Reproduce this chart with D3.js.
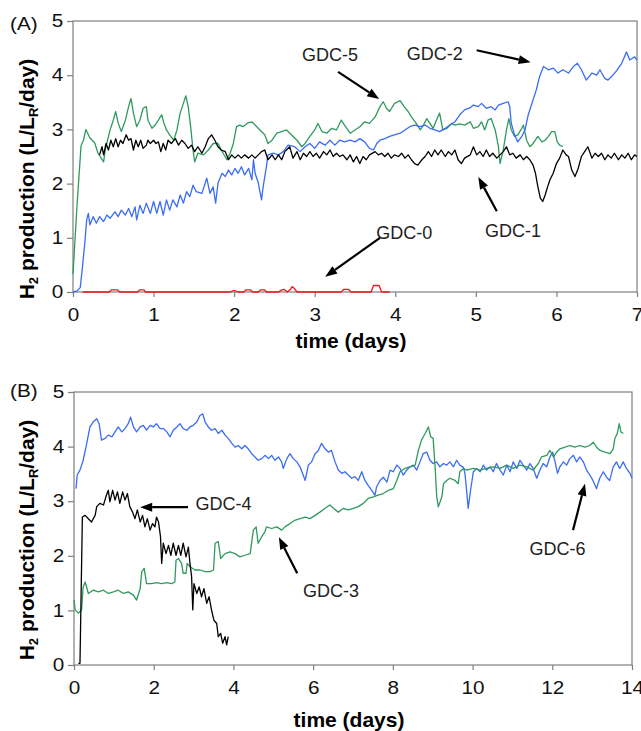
<!DOCTYPE html>
<html>
<head>
<meta charset="utf-8" />
<title>H2 production</title>
<script src="https://cdnjs.cloudflare.com/ajax/libs/d3/7.8.5/d3.min.js"></script>
<style>
  body { margin: 0; background: #fff; }
  #chart svg { display: block; }
  .axis text { font-family: "Liberation Sans", Arial, Helvetica, sans-serif; font-size: 18px; fill: #111; }
  .axis line { stroke: #7f7f7f; stroke-width: 1.2px; }
  .series { fill: none; stroke-width: 1.3px; stroke-linejoin: round; }
  .note { font-family: "Liberation Sans", Arial, Helvetica, sans-serif; font-size: 18px; fill: #222; }
  .title { font-family: "Liberation Sans", Arial, Helvetica, sans-serif; font-weight: bold; font-size: 21px; fill: #000; }
</style>
</head>
<body>
<div id="chart"></div>

<script>
// ---- data: [time (days), H2 production (L/LR/day)] ----
var yTicks = [0, 1, 2, 3, 4, 5];
var xTicksA = [0, 1, 2, 3, 4, 5, 6, 7];
var xTicksB = [0, 2, 4, 6, 8, 10, 12, 14];

// panel A
var gdc5 = [[0,0.33],[0.05,1.6],[0.1,2.7],[0.13,2.80],[0.16,3.0],[0.21,2.84],[0.27,2.75],[0.31,2.56],[0.38,2.40],[0.40,2.62],[0.46,2.99],[0.50,3.17],[0.53,3.33],[0.56,3.12],[0.60,2.96],[0.65,3.17],[0.69,3.42],[0.72,3.57],[0.75,3.30],[0.79,3.05],[0.83,3.17],[0.87,3.39],[0.91,3.42],[0.93,3.17],[0.98,3.02],[1.02,3.08],[1.06,3.17],[1.10,3.27],[1.13,3.11],[1.16,2.99],[1.20,2.90],[1.25,2.80],[1.29,2.99],[1.33,3.30],[1.37,3.48],[1.40,3.62],[1.43,3.42],[1.46,3.05],[1.49,2.62],[1.51,2.40],[1.55,2.56],[1.62,2.53],[1.68,2.62],[1.74,2.74],[1.80,2.74],[1.84,2.62],[1.91,2.44],[1.95,2.56],[1.99,2.74],[2.03,3.05],[2.07,3.08],[2.11,3.05],[2.17,3.12],[2.22,3.14],[2.26,3.08],[2.32,2.99],[2.38,2.90],[2.42,2.74],[2.47,2.80],[2.53,2.93],[2.59,2.96],[2.65,2.99],[2.71,2.90],[2.78,2.80],[2.84,2.68],[2.88,2.74],[2.94,2.87],[3.00,2.99],[3.04,3.11],[3.09,2.96],[3.15,2.93],[3.21,3.02],[3.27,2.99],[3.33,3.17],[3.37,3.08],[3.44,2.93],[3.50,2.99],[3.56,3.05],[3.62,3.14],[3.68,3.11],[3.75,3.23],[3.81,3.42],[3.85,3.51],[3.89,3.39],[3.93,3.33],[3.99,3.48],[4.06,3.53],[4.11,3.42],[4.16,3.33],[4.20,3.23],[4.26,3.11],[4.31,2.99],[4.35,3.08],[4.39,3.20],[4.43,3.11],[4.47,3.02],[4.51,3.17],[4.55,3.30],[4.59,2.99],[4.64,3.02],[4.70,3.11],[4.74,3.08],[4.80,3.10],[4.86,3.08],[4.93,3.14],[4.97,3.02],[5.03,3.05],[5.07,3.14],[5.11,2.99],[5.15,3.17],[5.19,3.20],[5.24,2.99],[5.28,2.68],[5.30,2.37],[5.34,2.62],[5.38,2.99],[5.41,3.20],[5.44,2.99],[5.48,2.87],[5.52,2.90],[5.57,3.02],[5.59,3.08],[5.63,2.80],[5.67,2.68],[5.71,2.74],[5.77,2.87],[5.82,2.77],[5.86,2.80],[5.90,2.87],[5.94,2.96],[5.98,2.96],[6.01,2.77],[6.04,2.71],[6.08,2.68]];

var gdc2 = [[0,0],[0.05,0.02],[0.09,0.08],[0.12,0.5],[0.15,0.96],[0.17,1.33],[0.19,1.45],[0.21,1.24],[0.25,1.39],[0.29,1.27],[0.33,1.39],[0.38,1.30],[0.42,1.42],[0.46,1.36],[0.52,1.48],[0.56,1.39],[0.60,1.51],[0.65,1.42],[0.69,1.54],[0.73,1.39],[0.77,1.57],[0.79,1.33],[0.83,1.60],[0.87,1.45],[0.91,1.64],[0.96,1.45],[1.00,1.67],[1.04,1.45],[1.08,1.67],[1.12,1.42],[1.16,1.70],[1.20,1.51],[1.24,1.70],[1.29,1.57],[1.33,1.79],[1.37,1.64],[1.41,1.85],[1.45,1.76],[1.49,1.97],[1.53,1.85],[1.60,1.82],[1.66,2.10],[1.70,1.82],[1.74,1.94],[1.77,1.64],[1.80,2.01],[1.85,2.19],[1.89,2.13],[1.93,2.25],[1.97,2.16],[2.01,2.28],[2.05,2.19],[2.09,2.31],[2.13,2.16],[2.18,2.28],[2.22,2.07],[2.24,2.44],[2.26,2.19],[2.30,2.01],[2.34,1.70],[2.36,1.94],[2.40,2.31],[2.42,2.53],[2.49,2.56],[2.55,2.53],[2.61,2.59],[2.67,2.71],[2.75,2.68],[2.82,2.59],[2.88,2.68],[2.94,2.74],[3.00,2.65],[3.06,2.77],[3.13,2.71],[3.19,2.80],[3.25,2.71],[3.31,2.80],[3.37,2.77],[3.44,2.80],[3.50,2.77],[3.56,2.83],[3.62,2.77],[3.68,2.65],[3.73,2.62],[3.77,2.74],[3.81,2.80],[3.87,2.83],[3.93,2.87],[3.99,2.90],[4.06,2.93],[4.12,2.99],[4.18,3.05],[4.24,3.08],[4.31,3.05],[4.37,3.08],[4.43,3.02],[4.49,2.99],[4.55,2.96],[4.62,3.02],[4.68,3.08],[4.74,3.14],[4.80,3.27],[4.86,3.36],[4.93,3.40],[4.97,3.45],[5.03,3.42],[5.07,3.48],[5.13,3.39],[5.19,3.42],[5.24,3.36],[5.28,3.45],[5.34,3.48],[5.40,3.51],[5.42,3.42],[5.44,3.11],[5.48,2.90],[5.52,2.77],[5.57,2.87],[5.61,2.99],[5.65,3.27],[5.69,3.45],[5.75,3.73],[5.79,3.97],[5.84,4.16],[5.90,4.10],[5.96,4.13],[6.02,4.04],[6.08,4.10],[6.15,4.04],[6.21,4.16],[6.26,4.22],[6.31,4.10],[6.37,3.91],[6.44,4.04],[6.50,4.00],[6.54,4.10],[6.60,3.94],[6.64,3.91],[6.70,4.00],[6.74,4.07],[6.81,4.22],[6.87,4.43],[6.91,4.28],[6.97,4.34],[7.0,4.28]];

var gdc1 = [[0.33,2.53],[0.36,2.68],[0.38,2.53],[0.41,2.74],[0.44,2.62],[0.47,2.80],[0.50,2.68],[0.53,2.83],[0.56,2.68],[0.59,2.80],[0.62,2.74],[0.66,2.90],[0.69,2.80],[0.72,2.83],[0.75,2.62],[0.78,2.80],[0.81,2.68],[0.84,2.80],[0.87,2.65],[0.91,2.71],[0.93,2.80],[0.96,2.74],[1.00,2.80],[1.03,2.74],[1.06,2.77],[1.09,2.59],[1.12,2.74],[1.15,2.62],[1.18,2.80],[1.22,2.74],[1.27,2.83],[1.31,2.71],[1.35,2.80],[1.39,2.74],[1.43,2.65],[1.47,2.71],[1.51,2.59],[1.55,2.68],[1.60,2.56],[1.64,2.68],[1.68,2.83],[1.72,2.90],[1.76,2.80],[1.80,2.68],[1.84,2.62],[1.89,2.59],[1.93,2.44],[1.97,2.53],[2.01,2.47],[2.05,2.53],[2.09,2.47],[2.13,2.53],[2.18,2.47],[2.22,2.53],[2.26,2.47],[2.30,2.53],[2.34,2.59],[2.38,2.62],[2.42,2.44],[2.47,2.53],[2.51,2.44],[2.55,2.53],[2.59,2.44],[2.63,2.59],[2.69,2.68],[2.73,2.47],[2.78,2.59],[2.82,2.44],[2.86,2.56],[2.90,2.50],[2.94,2.59],[2.98,2.50],[3.02,2.56],[3.06,2.47],[3.11,2.59],[3.15,2.53],[3.19,2.62],[3.23,2.50],[3.27,2.56],[3.31,2.50],[3.35,2.53],[3.40,2.44],[3.44,2.53],[3.48,2.40],[3.52,2.50],[3.56,2.37],[3.60,2.50],[3.64,2.44],[3.68,2.53],[3.75,2.59],[3.79,2.53],[3.83,2.56],[3.87,2.50],[3.91,2.56],[3.95,2.47],[3.99,2.53],[4.04,2.50],[4.08,2.56],[4.12,2.47],[4.16,2.53],[4.20,2.44],[4.24,2.37],[4.28,2.34],[4.33,2.44],[4.37,2.50],[4.41,2.59],[4.45,2.50],[4.49,2.62],[4.53,2.53],[4.57,2.62],[4.62,2.50],[4.66,2.59],[4.70,2.53],[4.74,2.62],[4.78,2.44],[4.82,2.37],[4.86,2.47],[4.93,2.53],[4.97,2.68],[5.01,2.53],[5.05,2.59],[5.09,2.50],[5.13,2.62],[5.17,2.50],[5.21,2.56],[5.26,2.47],[5.30,2.53],[5.34,2.59],[5.38,2.68],[5.42,2.53],[5.46,2.56],[5.50,2.47],[5.55,2.53],[5.59,2.44],[5.63,2.50],[5.67,2.44],[5.71,2.34],[5.74,2.19],[5.77,1.94],[5.80,1.73],[5.83,1.67],[5.86,1.79],[5.89,1.94],[5.92,2.07],[5.96,2.19],[6.00,2.37],[6.04,2.47],[6.08,2.62],[6.12,2.53],[6.15,2.50],[6.19,2.25],[6.23,2.13],[6.27,2.28],[6.31,2.50],[6.35,2.59],[6.39,2.68],[6.44,2.47],[6.48,2.56],[6.52,2.50],[6.56,2.56],[6.60,2.44],[6.64,2.53],[6.68,2.47],[6.72,2.56],[6.77,2.44],[6.81,2.53],[6.85,2.47],[6.89,2.56],[6.93,2.44],[6.97,2.53],[7.0,2.50]];

var gdc0 = [[0.12,0],[0.45,0],[0.48,0.04],[0.55,0.04],[0.58,0],[0.80,0],[0.83,0.04],[0.88,0.04],[0.90,0],[1.95,0],[2.00,0.03],[2.05,0],[2.12,0],[2.15,0.04],[2.20,0.04],[2.23,0],[2.30,0],[2.33,0.04],[2.38,0.04],[2.40,0],[2.55,0],[2.58,0.03],[2.62,0.05],[2.66,0],[2.70,0.05],[2.72,0.10],[2.75,0.06],[2.78,0],[3.33,0],[3.36,0.05],[3.42,0.05],[3.45,0],[3.70,0],[3.73,0.12],[3.80,0.12],[3.83,0],[3.93,0]];

// panel B
var gdc6 = [[0.05,3.23],[0.08,3.48],[0.15,3.57],[0.23,3.75],[0.32,4.06],[0.40,4.36],[0.48,4.45],[0.57,4.51],[0.63,4.42],[0.69,4.12],[0.78,4.15],[0.86,4.21],[0.95,4.18],[1.03,4.27],[1.11,4.36],[1.20,4.27],[1.28,4.33],[1.36,4.42],[1.42,4.54],[1.49,4.36],[1.57,4.27],[1.66,4.36],[1.74,4.39],[1.82,4.30],[1.91,4.39],[1.99,4.36],[2.07,4.42],[2.16,4.33],[2.24,4.33],[2.33,4.27],[2.41,4.18],[2.49,4.30],[2.58,4.36],[2.66,4.42],[2.74,4.33],[2.83,4.30],[2.91,4.36],[2.99,4.39],[3.08,4.45],[3.16,4.57],[3.23,4.60],[3.29,4.45],[3.37,4.36],[3.45,4.30],[3.54,4.33],[3.62,4.24],[3.71,4.30],[3.79,4.21],[3.87,4.15],[3.96,4.06],[4.04,3.99],[4.12,4.02],[4.21,3.96],[4.29,4.02],[4.37,3.96],[4.46,3.87],[4.54,3.81],[4.62,3.75],[4.71,3.78],[4.79,3.84],[4.88,3.78],[4.96,3.84],[5.04,3.75],[5.13,3.81],[5.21,3.72],[5.25,3.60],[5.34,3.78],[5.42,3.87],[5.50,3.78],[5.59,3.72],[5.67,3.63],[5.75,3.48],[5.80,3.38],[5.88,3.66],[5.96,3.72],[6.05,3.87],[6.13,3.93],[6.21,4.06],[6.30,3.96],[6.38,3.90],[6.46,3.93],[6.55,3.72],[6.63,3.57],[6.72,3.51],[6.80,3.54],[6.88,3.48],[6.97,3.42],[7.05,3.45],[7.13,3.38],[7.22,3.54],[7.30,3.38],[7.38,3.29],[7.47,3.20],[7.55,3.11],[7.59,3.26],[7.68,3.38],[7.76,3.44],[7.85,3.35],[7.93,3.57],[8.01,3.54],[8.10,3.66],[8.18,3.60],[8.26,3.48],[8.35,3.57],[8.43,3.63],[8.51,3.66],[8.60,3.57],[8.68,3.72],[8.76,3.87],[8.85,3.90],[8.93,3.75],[9.01,3.69],[9.10,3.72],[9.18,3.63],[9.27,3.69],[9.35,3.66],[9.43,3.72],[9.52,3.63],[9.60,3.75],[9.68,3.66],[9.77,3.62],[9.81,3.50],[9.85,3.20],[9.89,2.87],[9.95,3.20],[10.02,3.54],[10.10,3.60],[10.19,3.54],[10.27,3.66],[10.35,3.57],[10.44,3.63],[10.52,3.54],[10.60,3.69],[10.69,3.57],[10.77,3.48],[10.86,3.66],[10.94,3.54],[11.02,3.72],[11.11,3.60],[11.19,3.75],[11.27,3.66],[11.36,3.57],[11.44,3.69],[11.52,3.60],[11.61,3.42],[11.69,3.57],[11.77,3.69],[11.86,3.63],[11.94,3.81],[12.01,3.90],[12.07,3.72],[12.13,3.51],[12.19,3.63],[12.28,3.72],[12.36,3.66],[12.44,3.78],[12.53,3.84],[12.61,3.72],[12.69,3.81],[12.78,3.72],[12.86,3.57],[12.94,3.48],[13.02,3.38],[13.11,3.23],[13.19,3.42],[13.28,3.54],[13.36,3.44],[13.44,3.38],[13.53,3.63],[13.61,3.72],[13.69,3.60],[13.78,3.72],[13.86,3.60],[13.95,3.51],[14.0,3.42]];

var gdc3 = [[0,1.19],[0.03,1.01],[0.11,0.95],[0.19,1.01],[0.23,1.43],[0.28,1.52],[0.36,1.31],[0.48,1.37],[0.61,1.34],[0.74,1.37],[0.86,1.31],[0.99,1.34],[1.11,1.37],[1.24,1.31],[1.36,1.34],[1.49,1.28],[1.57,1.19],[1.66,1.40],[1.70,1.71],[1.76,1.77],[1.82,1.49],[1.95,1.49],[2.07,1.51],[2.20,1.49],[2.33,1.51],[2.45,1.49],[2.53,1.52],[2.56,1.92],[2.62,1.95],[2.70,1.86],[2.74,1.68],[2.81,1.68],[2.84,1.86],[2.91,1.80],[3.04,1.74],[3.16,1.74],[3.29,1.71],[3.41,1.71],[3.50,1.74],[3.54,2.23],[3.62,2.26],[3.68,1.95],[3.79,2.04],[3.91,2.07],[4.04,2.04],[4.16,1.98],[4.29,2.01],[4.42,2.04],[4.46,2.26],[4.50,2.47],[4.57,2.53],[4.62,2.23],[4.71,2.35],[4.79,2.44],[4.83,2.53],[4.96,2.50],[5.09,2.53],[5.21,2.47],[5.29,2.53],[5.42,2.59],[5.54,2.65],[5.67,2.68],[5.80,2.71],[5.92,2.68],[6.05,2.74],[6.17,2.80],[6.30,2.87],[6.42,2.93],[6.51,2.87],[6.63,2.80],[6.76,2.87],[6.88,2.84],[7.01,2.87],[7.13,2.90],[7.26,2.96],[7.38,3.05],[7.51,3.08],[7.63,3.11],[7.76,3.14],[7.89,3.20],[8.01,3.23],[8.10,3.38],[8.18,3.54],[8.30,3.60],[8.43,3.63],[8.56,3.66],[8.64,3.93],[8.72,4.12],[8.81,4.24],[8.89,4.36],[8.95,4.18],[9.01,4.15],[9.06,3.63],[9.10,3.08],[9.14,2.90],[9.23,3.08],[9.27,3.32],[9.35,3.38],[9.43,3.42],[9.56,3.38],[9.64,3.32],[9.68,3.54],[9.77,3.60],[9.85,3.57],[10.02,3.60],[10.19,3.57],[10.35,3.60],[10.52,3.63],[10.69,3.60],[10.86,3.66],[11.02,3.60],[11.19,3.66],[11.36,3.63],[11.52,3.57],[11.65,3.69],[11.73,3.81],[11.86,3.84],[11.94,3.93],[12.03,3.81],[12.11,3.90],[12.19,3.96],[12.32,3.99],[12.44,4.02],[12.57,3.99],[12.69,4.02],[12.82,3.99],[12.94,4.02],[13.03,4.08],[13.11,3.99],[13.20,3.93],[13.32,3.90],[13.45,3.87],[13.53,3.96],[13.57,4.15],[13.63,4.24],[13.68,4.42],[13.72,4.27],[13.78,4.24]];

var gdc4 = [[0.11,0.03],[0.15,0.03],[0.21,2.71],[0.28,2.74],[0.36,2.68],[0.44,2.62],[0.53,2.74],[0.57,2.90],[0.65,2.96],[0.74,2.93],[0.80,3.08],[0.86,3.20],[0.90,2.99],[0.97,3.20],[1.03,3.02],[1.09,3.17],[1.15,2.96],[1.22,3.17],[1.28,3.02],[1.34,3.14],[1.40,2.90],[1.47,2.80],[1.53,2.68],[1.59,2.84],[1.66,2.62],[1.72,2.74],[1.78,2.53],[1.84,2.68],[1.91,2.47],[1.97,2.59],[2.03,2.53],[2.07,2.71],[2.12,2.62],[2.17,2.35],[2.20,1.86],[2.24,2.23],[2.31,2.04],[2.37,2.19],[2.43,2.01],[2.49,2.23],[2.56,2.01],[2.62,2.19],[2.68,2.01],[2.74,2.23],[2.81,1.98],[2.87,2.16],[2.91,1.86],[2.95,1.62],[2.98,1.01],[3.01,1.49],[3.08,1.31],[3.14,1.43],[3.20,1.25],[3.26,1.40],[3.33,1.13],[3.39,1.25],[3.45,1.01],[3.51,0.82],[3.58,0.76],[3.62,0.52],[3.68,0.58],[3.73,0.40],[3.79,0.52],[3.83,0.37],[3.87,0.52]];

// annotations, placed in data coordinates
var notesA = [
  { text: "GDC-5", at: [3.19, 4.26], from: [3.29, 4.06], to: [3.80, 3.56] },
  { text: "GDC-2", at: [4.49, 4.28], from: [5.01, 4.46], to: [5.68, 4.24] },
  { text: "GDC-1", at: [5.46, 1.01], from: [5.26, 1.49], to: [5.03, 2.12] },
  { text: "GDC-0", at: [4.11, 0.98], from: [3.81, 1.00], to: [3.13, 0.28] }
];
var notesB = [
  { text: "GDC-4", at: [3.75, 2.84], from: [2.86, 2.89], to: [1.66, 2.89] },
  { text: "GDC-3", at: [6.45, 1.25], from: [5.60, 1.68], to: [5.14, 2.34] },
  { text: "GDC-6", at: [12.13, 2.01], from: [12.52, 2.47], to: [12.82, 3.32] }
];

var width = 641, height = 731;
var stretch = 1.15; // axis lettering in the original is a little wide

var svg = d3.select("#chart").append("svg")
    .attr("width", width)
    .attr("height", height);

drawPanel({ tag: "(A)", xMax: 7, xTicks: xTicksA, left: 73, right: 637, top: 21, bottom: 292,
            tagY: 30, xTitleY: 348, yTitleMid: 179 },
          [{ values: gdc5, color: "#2f9a5f" },
           { values: gdc2, color: "#3a6cf4" },
           { values: gdc1, color: "#000000" },
           { values: gdc0, color: "#f01818" }],
          notesA);

drawPanel({ tag: "(B)", xMax: 14, xTicks: xTicksB, left: 74, right: 632, top: 392, bottom: 665,
            tagY: 397, xTitleY: 727, yTitleMid: 540 },
          [{ values: gdc6, color: "#3a6cf4" },
           { values: gdc3, color: "#2f9a5f" },
           { values: gdc4, color: "#000000" }],
          notesB);

function drawPanel(p, series, notes) {
    var x = d3.scaleLinear().domain([0, p.xMax]).range([p.left, p.right]);
    var y = d3.scaleLinear().domain([0, 5]).range([p.bottom, p.top]);
    var fmt = d3.format("d");

    var g = svg.append("g");

    // frame
    g.append("rect")
        .attr("x", p.left).attr("y", p.top)
        .attr("width", p.right - p.left).attr("height", p.bottom - p.top)
        .attr("fill", "none").attr("stroke", "#7f7f7f").attr("stroke-width", 1.2);

    var ya = g.append("g")
        .attr("class", "axis")
        .attr("transform", "translate(" + p.left + ",0)")
        .call(d3.axisLeft(y).tickValues(yTicks).tickFormat(fmt)
              .tickSizeInner(6).tickSizeOuter(0).tickPadding(2.5));

    var xa = g.append("g")
        .attr("class", "axis")
        .attr("transform", "translate(0," + p.bottom + ")")
        .call(d3.axisBottom(x).tickValues(p.xTicks).tickFormat(fmt)
              .tickSizeInner(5).tickSizeOuter(0).tickPadding(11));

    [ya, xa].forEach(function(a) {
        a.attr("font-size", null).attr("font-family", null);
        a.select(".domain").remove();
        a.selectAll("text").attr("transform", "scale(" + stretch + ",1)");
    });

    // series
    var line = d3.line()
        .x(function(d) { return x(d[0]); })
        .y(function(d) { return y(d[1]); });

    series.forEach(function(s) {
        g.append("path")
            .datum(s.values)
            .attr("class", "series")
            .attr("stroke", s.color)
            .attr("d", line);
    });

    // panel tag
    g.append("text")
        .attr("transform", "translate(10," + p.tagY + ") scale(" + stretch + ",1)")
        .style("font-family", "'Liberation Sans', Arial, sans-serif")
        .style("font-size", "18px")
        .style("fill", "#111")
        .text(p.tag);

    // axis titles
    g.append("text")
        .attr("class", "title")
        .attr("x", (p.left + p.right) / 2 - 4)
        .attr("y", p.xTitleY)
        .attr("text-anchor", "middle")
        .text("time (days)");

    var yt = g.append("text")
        .attr("class", "title")
        .attr("text-anchor", "middle")
        .attr("transform", "translate(34," + p.yTitleMid + ") rotate(-90)");
    yt.append("tspan").text("H");
    yt.append("tspan").attr("dy", 4).style("font-size", "13px").text("2");
    yt.append("tspan").attr("dy", -4).text(" production (L/L");
    yt.append("tspan").attr("dy", 4).style("font-size", "13px").text("R");
    yt.append("tspan").attr("dy", -4).text("/day)");

    // annotations
    notes.forEach(function(n) {
        g.append("text")
            .attr("class", "note")
            .attr("x", x(n.at[0]))
            .attr("y", y(n.at[1]))
            .attr("text-anchor", "middle")
            .text(n.text);

        var x1 = x(n.from[0]), y1 = y(n.from[1]);
        var x2 = x(n.to[0]), y2 = y(n.to[1]);
        var ang = Math.atan2(y2 - y1, x2 - x1);
        var len = 12, half = 4.5;
        var bx = x2 - len * Math.cos(ang), by = y2 - len * Math.sin(ang);

        g.append("line")
            .attr("x1", x1).attr("y1", y1)
            .attr("x2", bx).attr("y2", by)
            .attr("stroke", "#000").attr("stroke-width", 2.2);

        g.append("path")
            .attr("d", "M" + x2 + "," + y2 +
                       "L" + (bx - half * Math.sin(ang)) + "," + (by + half * Math.cos(ang)) +
                       "L" + (bx + half * Math.sin(ang)) + "," + (by - half * Math.cos(ang)) + "Z")
            .attr("fill", "#000");
    });
}
</script>
</body>
</html>
